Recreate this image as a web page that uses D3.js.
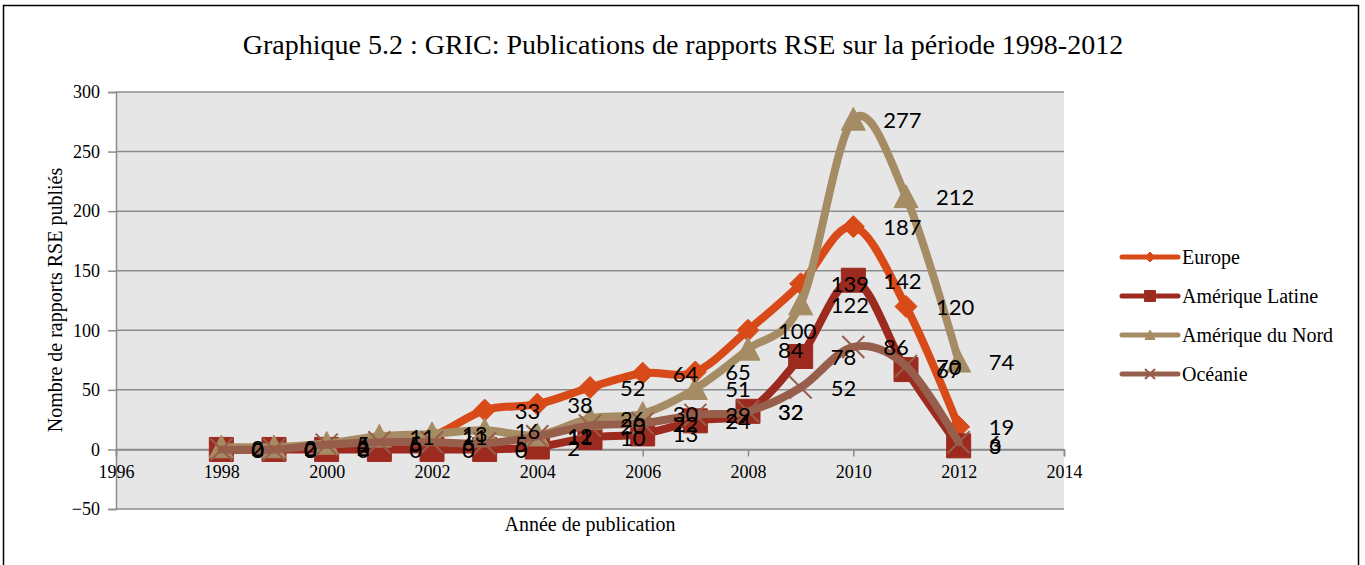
<!DOCTYPE html>
<html>
<head>
<meta charset="utf-8">
<script src="https://cdn.jsdelivr.net/npm/d3@7"></script>
<style>
  html, body { margin: 0; padding: 0; background: #fff; }
  svg text { font-family: "Liberation Serif", "DejaVu Serif", serif; }
  .lbl { font-family: Lato, "Open Sans", sans-serif !important; }
</style>
</head>
<body>
<svg id="chart" width="1365" height="565"></svg>
<script>
// === Data ===
const years = [1998, 1999, 2000, 2001, 2002, 2003, 2004, 2005, 2006, 2007, 2008, 2009, 2010, 2011, 2012];
const europe = [0, 0, 2, 5, 11, 33, 38, 52, 64, 65, 100, 139, 187, 120, 19];
const ameriqueLatine = [0, 0, 0, 0, 0, 0, 2, 10, 13, 24, 32, 78, 142, 67, 3];
const ameriqueNord = [2, 2, 5, 11, 13, 16, 12, 26, 30, 51, 84, 122, 277, 212, 74];
const oceanie = [0, 0, 4, 6, 6, 5, 11, 20, 22, 29, 32, 52, 86, 70, 6];
const seriesNames = ["Europe", "Amérique Latine", "Amérique du Nord", "Océanie"];
const seriesColors = ["#d84a18", "#9c2a1e", "#a68c64", "#975e4c"];
const seriesShapes = ["diamond", "square", "triangle", "cross"];
const xTicks = [1996, 1998, 2000, 2002, 2004, 2006, 2008, 2010, 2012, 2014];
const yTicks = [-50, 0, 50, 100, 150, 200, 250, 300];

const series = [europe, ameriqueLatine, ameriqueNord, oceanie].map((vals, i) => ({
  name: seriesNames[i],
  color: seriesColors[i],
  shape: seriesShapes[i],
  points: years.map((y, j) => ({ year: y, value: vals[j] }))
}));

// === Layout ===
const svg = d3.select("#chart");
const plot = { left: 116, right: 1064, top: 92, bottom: 509 };

const x = d3.scaleLinear().domain([1996, 2014]).range([plot.left, plot.right]);
const y = d3.scaleLinear().domain([-50, 300]).range([plot.bottom, plot.top]);

// outer frame
svg.append("rect")
  .attr("x", 3.5).attr("y", 5.5)
  .attr("width", 1355).attr("height", 600)
  .attr("fill", "none")
  .attr("stroke", "#000")
  .attr("stroke-width", 1.5);

// title
svg.append("text")
  .attr("x", 683).attr("y", 54)
  .attr("text-anchor", "middle")
  .style("font-size", "28px")
  .text("Graphique 5.2 : GRIC: Publications de rapports RSE sur la période 1998-2012");

// plot background
svg.append("rect")
  .attr("x", plot.left).attr("y", plot.top)
  .attr("width", plot.right - plot.left)
  .attr("height", plot.bottom - plot.top)
  .attr("fill", "#e6e6e6");

// gridlines
svg.append("g")
  .selectAll("line")
  .data(yTicks)
  .enter().append("line")
  .attr("x1", plot.left).attr("x2", plot.right)
  .attr("y1", d => y(d)).attr("y2", d => y(d))
  .attr("stroke", "#8c8c8c")
  .attr("stroke-width", 1.5);

// y axis
const yAxis = svg.append("g")
  .attr("transform", `translate(${plot.left},0)`)
  .call(d3.axisLeft(y).tickValues(yTicks).tickSize(8).tickPadding(8));
yAxis.select(".domain").attr("stroke", "#8c8c8c").attr("stroke-width", 1.5);
yAxis.selectAll(".tick line").attr("stroke", "#8c8c8c").attr("stroke-width", 1.5);
yAxis.selectAll("text")
  .style("font-family", "'Liberation Serif', serif")
  .style("font-size", "18px")
  .attr("fill", "#000");

// x axis sits on zero
const xAxis = svg.append("g")
  .attr("transform", `translate(0,${y(0)})`)
  .call(d3.axisBottom(x).tickValues(xTicks).tickFormat(d3.format("d")).tickSize(7).tickPadding(9));
xAxis.select(".domain").attr("stroke", "#8c8c8c").attr("stroke-width", 1.5);
xAxis.selectAll(".tick line").attr("stroke", "#8c8c8c").attr("stroke-width", 1.5);
xAxis.selectAll("text")
  .style("font-family", "'Liberation Serif', serif")
  .style("font-size", "18px")
  .attr("fill", "#000");

// axis titles
svg.append("text")
  .attr("transform", "translate(55,300) rotate(-90)")
  .attr("text-anchor", "middle")
  .attr("dominant-baseline", "central")
  .style("font-size", "20px")
  .text("Nombre de rapports RSE publiés");

svg.append("text")
  .attr("x", 590).attr("y", 531)
  .attr("text-anchor", "middle")
  .style("font-size", "20px")
  .text("Année de publication");

// marker paths
function markerPath(shape, s) {
  const h = s / 2;
  if (shape === "diamond") return `M0,${-h}L${h},0L0,${h}L${-h},0Z`;
  if (shape === "square") return `M${-h},${-h}H${h}V${h}H${-h}Z`;
  if (shape === "triangle") return `M0,${-h}L${h},${h * 0.9}L${-h},${h * 0.9}Z`;
  return `M${-h},${-h}L${h},${h}M${h},${-h}L${-h},${h}`;
}

const line = d3.line()
  .x(d => x(d.year))
  .y(d => y(d.value))
  .curve(d3.curveCardinal.tension(0));

// lines + markers, series by series
series.forEach(s => {
  const g = svg.append("g");
  g.append("path")
    .datum(s.points)
    .attr("d", line)
    .attr("fill", "none")
    .attr("stroke", s.color)
    .attr("stroke-width", 8)
    .attr("stroke-linejoin", "round")
    .attr("stroke-linecap", "round");

  const size = s.shape === "diamond" ? 22 : s.shape === "cross" ? 22 : 24;
  g.selectAll("path.mk")
    .data(s.points)
    .enter().append("path")
    .attr("class", "mk")
    .attr("transform", d => `translate(${x(d.year)},${y(d.value)})`)
    .attr("d", markerPath(s.shape, size))
    .attr("fill", s.shape === "cross" ? "none" : s.color)
    .attr("stroke", s.color)
    .attr("stroke-width", s.shape === "cross" ? 2 : 1);
});

// data labels, to the right of each point
series.forEach(s => {
  svg.append("g")
    .selectAll("text")
    .data(s.points)
    .enter().append("text")
    .attr("class", "lbl")
    .attr("x", d => x(d.year) + 30)
    .attr("y", d => y(d.value))
    .attr("dominant-baseline", "central")
    .style("font-size", "22px")
    .attr("fill", "#000")
    .text(d => d.value);
});

// legend
const legend = svg.append("g")
  .selectAll("g")
  .data(series)
  .enter().append("g")
  .attr("transform", (d, i) => `translate(1122,${257 + i * 39})`);

legend.append("line")
  .attr("x1", 0).attr("x2", 56)
  .attr("stroke", d => d.color)
  .attr("stroke-width", 5)
  .attr("stroke-linecap", "round");

legend.append("path")
  .attr("transform", "translate(28,0)")
  .attr("d", d => markerPath(d.shape, d.shape === "square" ? 11 : 10))
  .attr("fill", d => d.shape === "cross" ? "none" : d.color)
  .attr("stroke", d => d.color)
  .attr("stroke-width", d => d.shape === "cross" ? 2 : 1);

legend.append("text")
  .attr("x", 60)
  .attr("dominant-baseline", "central")
  .style("font-size", "20px")
  .text(d => d.name);
</script>
</body>
</html>
